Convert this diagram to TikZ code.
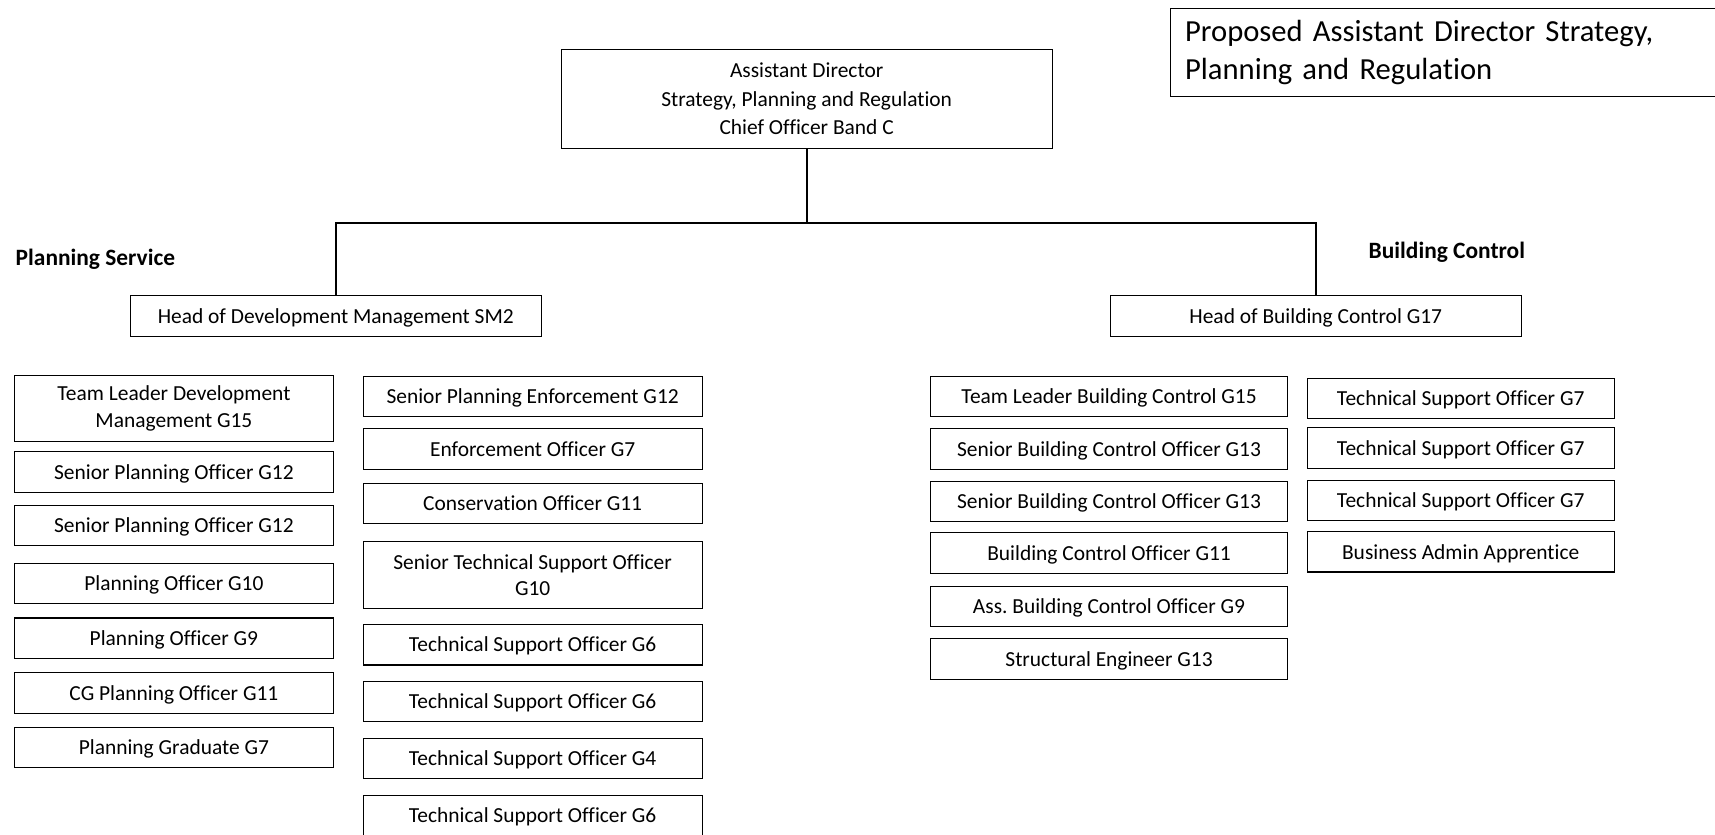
\documentclass[tikz,border=0pt]{standalone}
\usepackage{fontspec}
\setmainfont{Carlito}[Ligatures=NoCommon]
\usetikzlibrary{positioning}
\frenchspacing

\begin{document}
\begin{tikzpicture}[x=0.5pt,y=-0.5pt,
    every node/.style={align=center,font=\fontsize{9.8}{12}\selectfont},
    post/.style={draw,line width=0.5pt,minimum height=18.5pt,inner sep=2pt},
    oneline/.style={text height=7.6pt,text depth=1pt},
    dmcol/.style={post,oneline,minimum width=146pt},
    enfcol/.style={post,oneline,minimum width=155pt},
    bccol/.style={post,oneline,minimum width=163.5pt},
    tsocol/.style={post,oneline,minimum width=140.5pt},
    head/.style={post,oneline,minimum width=188pt},
    heading/.style={font=\fontsize{10.7}{13}\selectfont\bfseries,inner sep=0pt},
    link/.style={line width=0.9pt}]
    \useasboundingbox (0,0) rectangle (1568,763);

    % top of the chart
    \node [post,minimum width=224.5pt,minimum height=45.5pt,font=\fontsize{9.8}{13}\selectfont] (ad) at (737.5,90.5) {Assistant Director\\Strategy, Planning and Regulation\\Chief Officer Band C};
    \node [post,anchor=north west,minimum height=40.5pt,align=left,inner xsep=6.5pt,text width=236pt,font=\fontsize{14}{17}\selectfont] (title) at (1070,7) {Proposed Assistant Director Strategy,\\Planning and Regulation};

    \node [head] (headdm) at (307,289) {Head of Development Management SM2};
    \node [head] (headbc) at (1203,289) {Head of Building Control G17};
    \node [heading,anchor=west] (planning) at (14,237) {Planning Service};
    \node [heading,anchor=west] (building) at (1251,231) {Building Control};

    \coordinate (bus) at (737.5,204);
    \draw [link] (ad) -- (bus) -| (headdm);
    \draw [link] (bus) -| (headbc);

    % planning service
    \node [post,minimum width=146pt,minimum height=30.5pt] (tldm) at (159,373.5) {Team Leader Development\\Management G15};
    \node [dmcol,below=4pt of tldm] (spoa) {Senior Planning Officer G12};
    \node [dmcol,below=5.5pt of spoa] (spob) {Senior Planning Officer G12};
    \node [dmcol,below=7.5pt of spob] (poten) {Planning Officer G10};
    \node [dmcol,below=6pt of poten] (ponine) {Planning Officer G9};
    \node [dmcol,below=6pt of ponine] (cgpo) {CG Planning Officer G11};
    \node [dmcol,below=6pt of cgpo] (grad) {Planning Graduate G7};

    \node [enfcol] (spe) at (487,362.5) {Senior Planning Enforcement G12};
    \node [enfcol,below=5pt of spe] (eo) {Enforcement Officer G7};
    \node [enfcol,below=6pt of eo] (co) {Conservation Officer G11};
    \node [post,minimum width=155pt,minimum height=30.5pt,below=7.5pt of co] (stso) {Senior Technical Support Officer\\G10};
    \node [enfcol,below=7pt of stso] (tsoa) {Technical Support Officer G6};
    \node [enfcol,below=7pt of tsoa] (tsob) {Technical Support Officer G6};
    \node [enfcol,below=7pt of tsob] (tsoc) {Technical Support Officer G4};
    \node [enfcol,below=7pt of tsoc] (tsod) {Technical Support Officer G6};

    % building control
    \node [bccol] (tlbc) at (1014,362.5) {Team Leader Building Control G15};
    \node [bccol,below=5pt of tlbc] (sbcoa) {Senior Building Control Officer G13};
    \node [bccol,below=5pt of sbcoa] (sbcob) {Senior Building Control Officer G13};
    \node [bccol,below=4.5pt of sbcob] (bco) {Building Control Officer G11};
    \node [bccol,below=5.5pt of bco] (abco) {Ass. Building Control Officer G9};
    \node [bccol,below=5pt of abco] (se) {Structural Engineer G13};

    \node [tsocol] (bctsoa) at (1335.5,364.5) {Technical Support Officer G7};
    \node [tsocol,below=3.5pt of bctsoa] (bctsob) {Technical Support Officer G7};
    \node [tsocol,below=5pt of bctsob] (bctsoc) {Technical Support Officer G7};
    \node [tsocol,below=4.5pt of bctsoc] (apprentice) {Business Admin Apprentice};
\end{tikzpicture}
\end{document}
